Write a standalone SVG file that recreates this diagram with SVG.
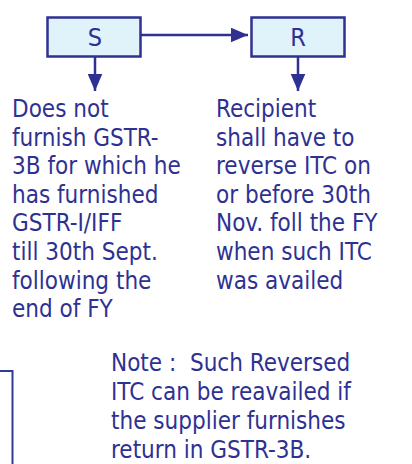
<svg xmlns="http://www.w3.org/2000/svg" width="412" height="464" viewBox="0 0 412 464">
<defs>
<style>
.box{fill:#e0f2fa;stroke:#2e3192;stroke-width:2.5}
.lbl{font-family:"DejaVu Sans Condensed","DejaVu Sans",sans-serif;font-stretch:condensed;font-size:25px;fill:#2e3192;text-anchor:middle}
.t{font-family:"DejaVu Sans Condensed","DejaVu Sans",sans-serif;font-stretch:condensed;font-size:24px;fill:#2e3192;white-space:pre}
.c{stroke:#2e3192;stroke-width:2.5;fill:none}
</style>
<marker id="ah" markerWidth="8" markerHeight="6" refX="7" refY="3" orient="auto" markerUnits="strokeWidth">
<path d="M0,0 L7,3 L0,6 z" fill="#2e3192"/>
</marker>
</defs>
<g id="connectors">
<line class="c" x1="141" y1="35" x2="248" y2="35" marker-end="url(#ah)"/>
<line class="c" x1="95" y1="57" x2="95" y2="91" marker-end="url(#ah)"/>
<line class="c" x1="298" y1="57" x2="298" y2="91" marker-end="url(#ah)"/>
</g>
<g id="S"><rect class="box" x="47.5" y="17.5" width="93" height="39"/><text class="lbl" x="95" y="45.5">S</text></g>
<g id="R"><rect class="box" x="251.5" y="17.5" width="93" height="39"/><text class="lbl" x="298" y="45.5">R</text></g>
<g id="left-text"><text class="t" x="12">
<tspan x="12" y="117">Does not</tspan>
<tspan x="12" y="145.6">furnish GSTR-</tspan>
<tspan x="12" y="174.2">3B for which he</tspan>
<tspan x="12" y="202.8">has furnished</tspan>
<tspan x="12" y="231.4">GSTR-I/IFF</tspan>
<tspan x="12" y="260">till 30th Sept.</tspan>
<tspan x="12" y="288.6">following the</tspan>
<tspan x="12" y="317.2">end of FY</tspan>
</text></g>
<g id="right-text"><text class="t" x="216">
<tspan x="216" y="117">Recipient</tspan>
<tspan x="216" y="145.6">shall have to</tspan>
<tspan x="216" y="174.2">reverse ITC on</tspan>
<tspan x="216" y="202.8">or before 30th</tspan>
<tspan x="216" y="231.4">Nov. foll the FY</tspan>
<tspan x="216" y="260">when such ITC</tspan>
<tspan x="216" y="288.6">was availed</tspan>
</text></g>
<g id="note"><text class="t" x="111">
<tspan x="111" y="371">Note :  Such Reversed</tspan>
<tspan x="111" y="400">ITC can be reavailed if</tspan>
<tspan x="111" y="429">the supplier furnishes</tspan>
<tspan x="111" y="458">return in GSTR-3B.</tspan>
</text></g>
<g id="partial-box"><path d="M0 371 H12.5 V464" fill="none" stroke="#2b3f96" stroke-width="2"/></g>
</svg>
